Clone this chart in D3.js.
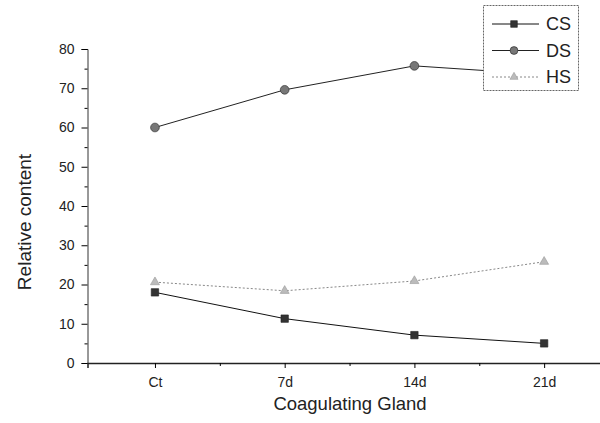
<!DOCTYPE html>
<html>
<head>
<meta charset="utf-8">
<script src="https://cdn.jsdelivr.net/npm/d3@7"></script>
<style>
    body { margin: 0; background: #fff; }
    svg { font-family: "Liberation Sans", Arial, sans-serif; }
</style>
</head>
<body>
<div id="chart"></div>
<script>
// data
let categories = ["Ct", "7d", "14d", "21d"];
let csValues = [18.0, 11.3, 7.1, 5.0];
let dsValues = [60.0, 69.6, 75.7, 73.5];
let hsValues = [20.6, 18.4, 20.9, 25.8];
let yTicks = [0, 10, 20, 30, 40, 50, 60, 70, 80];
let seriesNames = ["CS", "DS", "HS"];

let width = 600, height = 423;

let svg = d3.select("#chart")
    .append("svg")
        .attr("width", width)
        .attr("height", height);

let x = d3.scaleLinear()
    .domain([-0.52, 3.5])
    .range([87.5, 609]);

let y = d3.scaleLinear()
    .domain([0, 80])
    .range([363, 49]);

// y axis
let yAxis = svg.append("g")
    .attr("transform", "translate(87.5,0)")
    .call(d3.axisLeft(y).tickValues(yTicks).tickSize(6).tickPadding(7));
yAxis.selectAll("text").style("font-size", "14px").attr("fill", "#222");
yAxis.select(".domain").attr("stroke", "#333");

svg.append("g")
    .attr("transform", "translate(87.5,0)")
    .call(d3.axisLeft(y).tickValues(d3.range(5, 80, 10)).tickSize(3).tickFormat(""))
    .select(".domain").remove();

// x axis
let xAxis = svg.append("g")
    .attr("transform", "translate(0,363)")
    .call(d3.axisBottom(x)
        .tickValues(d3.range(categories.length))
        .tickFormat(i => categories[i])
        .tickSize(5).tickPadding(9));
xAxis.selectAll("text").style("font-size", "14px").attr("fill", "#222");
xAxis.select(".domain").attr("stroke", "#222").attr("stroke-width", 1.5);

svg.append("g")
    .attr("transform", "translate(0,363)")
    .call(d3.axisBottom(x).tickValues([0.5, 1.5, 2.5]).tickSize(3).tickFormat(""))
    .select(".domain").remove();

// axis titles
svg.append("text")
    .attr("x", 350)
    .attr("y", 410)
    .attr("text-anchor", "middle")
    .style("font-size", "18.5px")
    .attr("fill", "#222")
    .text("Coagulating Gland");

svg.append("text")
    .attr("transform", "translate(31,222) rotate(-90)")
    .attr("text-anchor", "middle")
    .style("font-size", "19px")
    .attr("fill", "#222")
    .text("Relative content");

let series = [
    {name: "CS", values: csValues, stroke: "#111", dash: null, symbol: d3.symbolSquare, size: 55, fill: "#333"},
    {name: "DS", values: dsValues, stroke: "#222", dash: null, symbol: d3.symbolCircle, size: 60, fill: "#777"},
    {name: "HS", values: hsValues, stroke: "#888", dash: "2,2", symbol: d3.symbolTriangle, size: 35, fill: "#bbb"},
];

let line = d3.line()
    .x((d, i) => x(i))
    .y(d => y(d));

series.forEach(s => {
    svg.append("path")
        .datum(s.values)
        .attr("fill", "none")
        .attr("stroke", s.stroke)
        .attr("stroke-width", 1)
        .attr("stroke-dasharray", s.dash)
        .attr("d", line);

    svg.append("g")
        .selectAll("path")
        .data(s.values)
        .enter()
        .append("path")
            .attr("transform", (d, i) => `translate(${x(i)},${y(d)})`)
            .attr("d", d3.symbol().type(s.symbol).size(s.size))
            .attr("fill", s.fill)
            .attr("stroke", s.name == "HS" ? "#999" : "#222")
            .attr("stroke-width", 0.6);
});

// legend (white box sits over the last DS point)
let legend = svg.append("g");
legend.append("rect")
    .attr("x", 483.5)
    .attr("y", 5.5)
    .attr("width", 95)
    .attr("height", 85)
    .attr("fill", "#fff")
    .attr("stroke", "#666")
    .attr("stroke-dasharray", "2,1");

let rowY = d3.scalePoint().domain(seriesNames).range([24, 77]);
series.forEach(s => {
    let ry = rowY(s.name);
    legend.append("line")
        .attr("x1", 492).attr("x2", 539)
        .attr("y1", ry).attr("y2", ry)
        .attr("stroke", s.stroke)
        .attr("stroke-dasharray", s.dash);
    legend.append("path")
        .attr("transform", `translate(514,${ry})`)
        .attr("d", d3.symbol().type(s.symbol).size(s.size * 0.8))
        .attr("fill", s.fill)
        .attr("stroke", s.name == "HS" ? "#999" : "#222")
        .attr("stroke-width", 0.6);
    legend.append("text")
        .attr("x", 546)
        .attr("y", ry + 6)
        .style("font-size", "18px")
        .attr("fill", "#222")
        .text(s.name);
});
</script>
</body>
</html>
